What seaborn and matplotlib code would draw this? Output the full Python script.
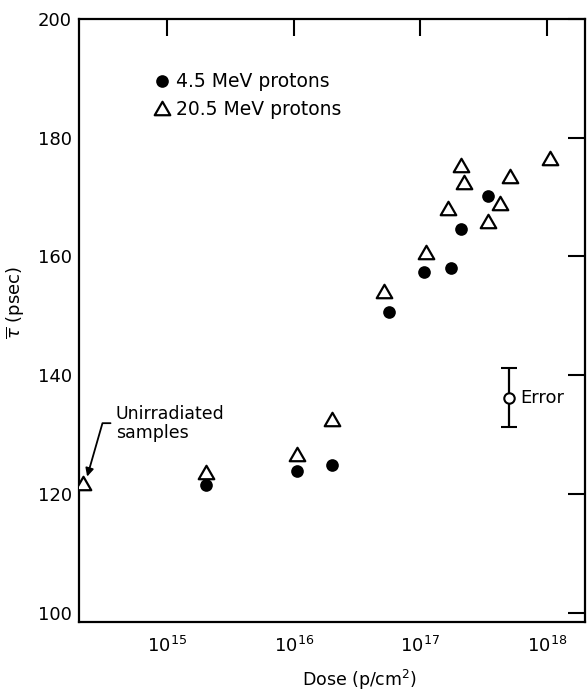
import numpy as np
import pandas as pd
import matplotlib
matplotlib.use("Agg")
import matplotlib.pyplot as plt
from matplotlib.lines import Line2D
from matplotlib.path import Path
from matplotlib.ticker import NullLocator, FixedLocator, FixedFormatter
import seaborn as sns

# ---- data ----
dose_45 = [2.0e15, 1.05e16, 2.0e16, 5.6e16, 1.07e17, 1.73e17, 2.09e17, 3.4e17]
tau_45 = [121.5, 123.9, 124.8, 150.6, 157.3, 158.1, 164.7, 170.2]

dose_205 = [2.16e14, 2.0e15, 1.05e16, 2.0e16, 5.2e16, 1.1e17, 1.64e17,
            2.09e17, 2.2e17, 3.4e17, 4.25e17, 5.1e17, 1.05e18]
tau_205 = [121.9, 123.6, 126.7, 132.6, 154.2, 160.7, 168.1,
           175.4, 172.5, 165.9, 169.0, 173.5, 176.6]

err_dose = [5.0e17]
err_tau = [136.2]
err_size = [5.0]

legend_labels = ["4.5 MeV protons", "20.5 MeV protons"]
xticks = [1e15, 1e16, 1e17, 1e18]
xtick_labels = [r"$10^{15}$", r"$10^{16}$", r"$10^{17}$", r"$10^{18}$"]
yticks = [100, 120, 140, 160, 180, 200]

df45 = pd.DataFrame({"dose": dose_45, "tau": tau_45})
df205 = pd.DataFrame({"dose": dose_205, "tau": tau_205})

sns.set_theme(style="white")
plt.rcParams["font.family"] = ["DejaVu Sans"]
plt.rcParams["mathtext.fontset"] = "dejavusans"
plt.rcParams["text.color"] = "black"
plt.rcParams["axes.labelcolor"] = "black"
plt.rcParams["xtick.color"] = "black"
plt.rcParams["ytick.color"] = "black"

fig = plt.figure(figsize=(5.87, 6.91), dpi=100)
ax = fig.add_axes([79 / 587, 69 / 691, 506 / 587, 603 / 691])

tri = Path([(-1, -0.866), (1, -0.866), (0, 0.866), (-1, -0.866)],
           [Path.MOVETO, Path.LINETO, Path.LINETO, Path.CLOSEPOLY])

sns.scatterplot(data=df45, x="dose", y="tau", marker="o", s=83,
                color="black", edgecolor="black", linewidth=0, ax=ax, zorder=3)
sns.scatterplot(data=df205, x="dose", y="tau", marker=tri, s=125,
                color="white", edgecolor="black", linewidth=1.6, ax=ax, zorder=3)

ax.errorbar(err_dose, err_tau, yerr=err_size, fmt="o", ms=7.5, mfc="white",
            mec="black", mew=1.5, color="black", elinewidth=1.6,
            capsize=5.5, capthick=1.6, zorder=4)
ax.text(6.2e17, err_tau[0], "Error", fontsize=13, ha="left", va="center",
        color="black")

ax.set_xscale("log")
ax.set_xlim(2.0e14, 2.0e18)
ax.set_ylim(98.4, 200)
ax.xaxis.set_major_locator(FixedLocator(xticks))
ax.xaxis.set_major_formatter(FixedFormatter(xtick_labels))
ax.xaxis.set_minor_locator(NullLocator())
ax.yaxis.set_minor_locator(NullLocator())
ax.set_yticks(yticks)

for sp in ax.spines.values():
    sp.set_visible(True)
    sp.set_color("black")
    sp.set_linewidth(1.6)

ax.tick_params(axis="both", which="major", direction="in", length=12,
               width=1.5, colors="black", top=True, right=True,
               labelsize=13)
ax.tick_params(axis="x", pad=10)
ax.tick_params(axis="y", pad=5)

ax.set_xlabel(r"Dose (p/cm$^2$)", fontsize=12.5, color="black")
ax.set_ylabel(r"$\overline{\tau}$ (psec)", fontsize=13, color="black")
ax.xaxis.set_label_coords(0.554, -0.076)
ax.yaxis.set_label_coords(-0.103, 0.53)

# annotation for unirradiated samples
ax.annotate("", xy=(2.32e14, 122.9), xytext=(3.55e14, 131.9),
            arrowprops=dict(arrowstyle="-|>", color="black", lw=1.3,
                            mutation_scale=12, shrinkA=0, shrinkB=0,
                            connectionstyle="angle,angleA=180,angleB=74,rad=0"))
ax.text(3.9e14, 131.9, "Unirradiated\nsamples", fontsize=12.5, ha="left",
        va="center", linespacing=1.05, color="black")

handles = [
    Line2D([], [], marker="o", ls="none", color="black", ms=9.1, mew=0),
    Line2D([], [], marker=tri, ls="none", mfc="white", mec="black", ms=11.2,
           mew=1.6),
]
leg = ax.legend(handles, legend_labels, loc="upper left",
                bbox_to_anchor=(0.149, 0.912), frameon=False, fontsize=13.5,
                handlelength=0.8, handletextpad=0.35, borderpad=0,
                borderaxespad=0, labelspacing=0.45)
for t in leg.get_texts():
    t.set_color("black")

fig.savefig("out.png", dpi=100)
